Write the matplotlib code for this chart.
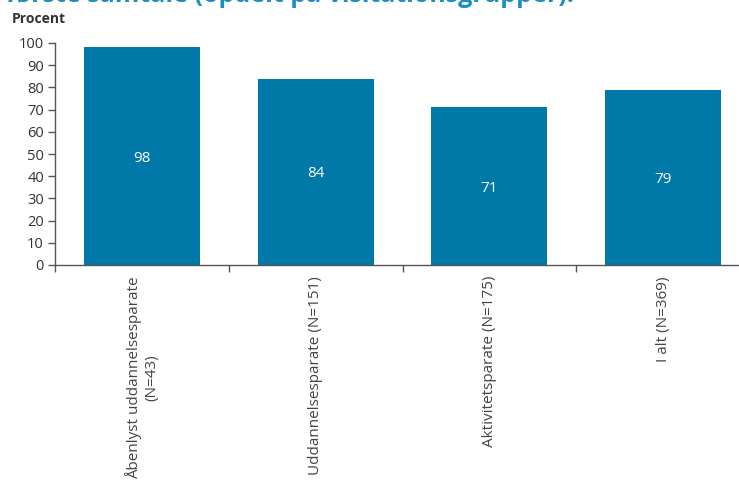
import matplotlib.pyplot as plt

categories = ['Åbenlyst uddannelsesparate\n(N=43)', 'Uddannelsesparate (N=151)',
              'Aktivitetsparate (N=175)', 'I alt (N=369)']
values = [98, 84, 71, 79]
yticks = [0, 10, 20, 30, 40, 50, 60, 70, 80, 90, 100]

plt.rcParams['font.family'] = ['Open Sans', 'DejaVu Sans']

fig = plt.figure(figsize=(7.39, 4.80), dpi=100)
ax = fig.add_axes([55 / 739, 1 - 265 / 480, 695 / 739, 222 / 480])

x = range(len(categories))
bars = ax.bar(x, values, width=0.667, color='#0079a9', zorder=2)

# value labels in the middle of each bar
for xi, v in zip(x, values):
    ax.text(xi, v / 2, str(v), ha='center', va='center_baseline', color='white', fontsize=11)

ax.set_xlim(-0.5, len(categories) - 0.5)
ax.set_ylim(0, 100)
ax.set_yticks(yticks)
ax.tick_params(axis='y', labelsize=10.5, labelcolor='#333333', color='#555555',
               length=5, width=1, pad=3)

# boundary ticks, labels at bar centres
ax.set_xticks([i - 0.5 for i in range(len(categories) + 1)])
ax.set_xticklabels([])
ax.tick_params(axis='x', which='major', length=5, width=1, color='#555555')
ax.set_xticks(list(x), minor=True)
ax.set_xticklabels(categories, minor=True, rotation=90, ha='center', va='top',
                   multialignment='center', fontsize=11, color='#444444')
ax.tick_params(axis='x', which='minor', length=0, pad=8)

for s in ['top', 'right']:
    ax.spines[s].set_visible(False)
for s in ['left', 'bottom']:
    ax.spines[s].set_color('#555555')
    ax.spines[s].set_linewidth(1)

fig.text(12 / 739, 1 - 19 / 480, 'Procent', ha='left', va='center',
         fontsize=10, fontweight='bold', color='#333333')
fig.text(6 / 739, 1 - 2 / 480, 'første samtale (opdelt på visitationsgrupper).',
         ha='left', va='baseline', fontsize=18, fontweight='bold', color='#1a8ec0')

fig.savefig('out.png', dpi=100)
